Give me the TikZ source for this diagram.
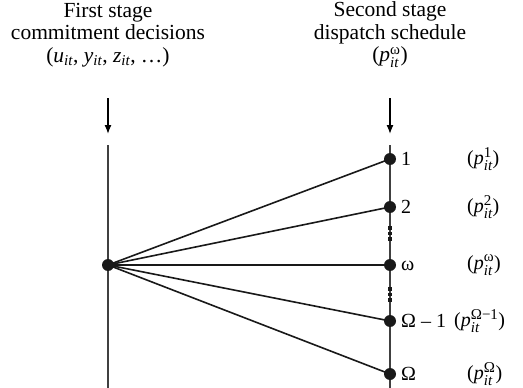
\documentclass[tikz,border=0pt]{standalone}
\usepackage{amsmath}
\usepackage{fontspec}
\setmainfont{Liberation Serif}
\usetikzlibrary{arrows.meta}
\DeclareMathSizes{20}{20}{15}{11}
\DeclareMathSizes{21}{21}{15}{11}
\newcommand{\vv}[1]{\textit{#1}$_{\text{\itshape it}}$}
\newcommand{\pv}[1]{(\textit{p}$_{\text{\itshape it}}^{\text{#1}}$)}
\tikzset{
  dot/.style={circle,fill=black!90,inner sep=0pt,minimum size=12pt},
  axis/.style={line width=1.3pt,black!75},
  branch/.style={line width=1.6pt,black!90},
  lab/.style={anchor=west,inner sep=0pt,font=\fontsize{20}{22}\selectfont},
  head/.style={align=center,inner sep=0pt,font=\fontsize{21.5}{22.5}\selectfont},
  tick/.style={line width=4pt,black!90},
}
\begin{document}
\begin{tikzpicture}[x=1pt,y=-1pt]
\useasboundingbox (0,0) rectangle (523,388);
% headers
\node[head] (h1) at (108,35) {First stage\\ commitment decisions\\ (\vv{u}, \vv{y}, \vv{z}, …)};
\node[head] (h2) at (390,35) {Second stage\\ dispatch schedule\\ \pv{ω}};
% arrows
\coordinate (a1s) at (108,98); \coordinate (a1e) at (108,134);
\coordinate (a2s) at (390,98); \coordinate (a2e) at (390,134);
\draw[line width=1.3pt,-{Latex[length=9pt,width=7pt]}] (a1s) -- (a1e);
\draw[line width=1.3pt,-{Latex[length=9pt,width=7pt]}] (a2s) -- (a2e);
% axes
\coordinate (l1) at (108,145); \coordinate (l2) at (108,388);
\coordinate (r1) at (390,145); \coordinate (r2) at (390,388);
\draw[axis] (l1) -- (l2);
\draw[axis] (r1) -- (r2);
% ticks
\foreach \y in {228,233.5,239,289,294.5,300}{
  \draw[tick] (390,\y-1.6) -- (390,\y+1.6);
}
% nodes
\node[dot] (s) at (108,265) {};
\node[dot] (n1) at (390,159) {};
\node[dot] (n2) at (390,207) {};
\node[dot] (nw) at (390,265) {};
\node[dot] (nO1) at (390,321) {};
\node[dot] (nO) at (390,374) {};
\foreach \n in {n1,n2,nw,nO1,nO}{
  \draw[branch] (s.center) -- (\n.center);
}
% labels
\node[lab] (t1) at (401,159) {1};
\node[lab] (t2) at (401,207) {2};
\node[lab] (tw) at (401,266) {ω};
\node[lab] (tO1) at (401,321) {Ω – 1};
\node[lab] (tO) at (401,374) {Ω};
\node[lab] (p1) at (467,159) {\pv{1}};
\node[lab] (p2) at (467,207) {\pv{2}};
\node[lab] (pw) at (467,265) {\pv{ω}};
\node[lab] (pO1) at (454,321) {\pv{Ω−1}};
\node[lab] (pO) at (467,374) {\pv{Ω}};
\end{tikzpicture}
\end{document}
